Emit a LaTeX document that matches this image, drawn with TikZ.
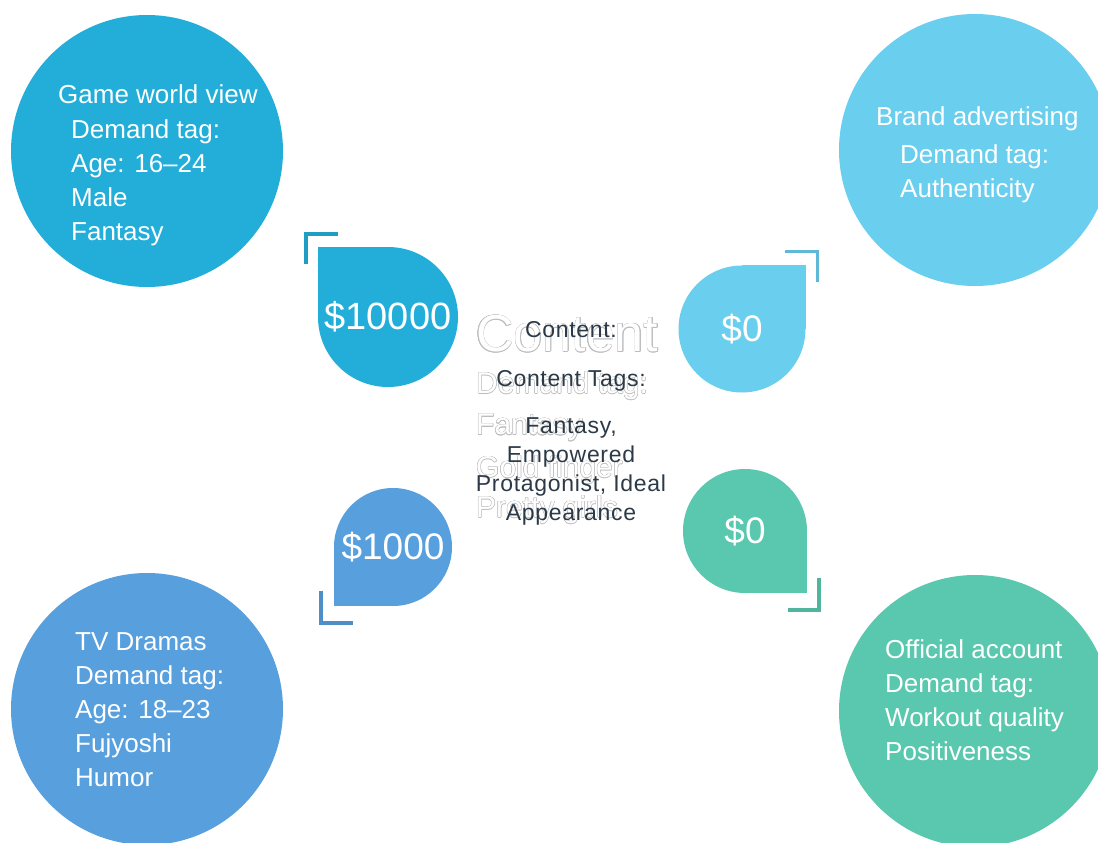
\documentclass[tikz,border=0pt]{standalone}
\usepackage{fontspec}
\setmainfont{Liberation Sans}
\newfontfamily\tagfont[LetterSpace=3]{Liberation Sans}
\usepackage[copies]{contour}
\contourlength{0.5pt}
\contournumber{12}
\usetikzlibrary{backgrounds,calc}

\definecolor{gameblue}{HTML}{22AED9}
\definecolor{brandblue}{HTML}{6ACEEE}
\definecolor{dramablue}{HTML}{589FDD}
\definecolor{officialgreen}{HTML}{5AC8AE}
\definecolor{ghostgray}{HTML}{BDBDBD}
\definecolor{inkgray}{HTML}{2C3A48}

\newcommand{\ghosttext}[1]{\contour{ghostgray}{\textcolor{white}{#1}}}

\begin{document}
\begin{tikzpicture}[x=1pt, y=-1pt,
  bubble/.style={circle, fill=#1, minimum size=272pt, inner sep=0pt},
  drop/.style={circle, fill=#1, text=white, inner sep=0pt},
  bracket/.style={draw=#1!90!black, line width=3.5pt},
  tagtext/.style={text=white, align=left, anchor=north west, inner sep=0pt, font=\fontsize{26}{34}\selectfont},
  ghost/.style={anchor=west, inner sep=0pt, font=\fontsize{30}{30}\selectfont},
  contenttext/.style={text=inkgray, align=center, inner sep=0pt, font=\tagfont\fontsize{23}{29}\selectfont}]

\useasboundingbox (0,0) rectangle (1098,843);

% demand circles
\node[bubble=gameblue] (game) at (147,151) {};
\node[bubble=brandblue] (brand) at (975,150) {};
\node[bubble=dramablue] (drama) at (147,709) {};
\node[bubble=officialgreen] (official) at (975,711) {};

\node[tagtext] (gametitle) at (58,84) {Game world view};
\node[tagtext] (gametags) at (71,119) {Demand tag:\\Age: 16–24\\Male\\Fantasy};
\node[tagtext] (brandtitle) at (876,106) {Brand advertising};
\node[tagtext] (brandtags) at (900,144) {Demand tag:\\Authenticity};
\node[tagtext] (dramatags) at (75,632) {TV Dramas\\Demand tag:\\Age: 18–23\\Fujyoshi\\Humor};
\node[tagtext] (officialtags) at (885,639) {Official account\\Demand tag:\\Workout quality\\Positiveness};

% price drops
\node[drop=gameblue, minimum size=140pt, font=\fontsize{38}{38}\selectfont] (d10000) at (388,317) {\$10000};
\node[drop=brandblue, minimum size=127pt, font=\fontsize{37}{37}\selectfont] (d0top) at (742,329) {\$0};
\node[drop=dramablue, minimum size=118pt, font=\fontsize{37}{37}\selectfont] (d1000) at (393,547) {\$1000};
\node[drop=officialgreen, minimum size=124pt, font=\fontsize{37}{37}\selectfont] (d0bot) at (745,531) {\$0};

\begin{scope}[on background layer]
\fill[gameblue] (d10000.center) rectangle (d10000.west |- d10000.north);
\fill[brandblue] (d0top.center) rectangle (d0top.east |- d0top.north);
\fill[dramablue] (d1000.center) rectangle (d1000.west |- d1000.south);
\fill[officialgreen] (d0bot.center) rectangle (d0bot.east |- d0bot.south);
\end{scope}

% corner brackets
\draw[bracket=gameblue] ($(d10000.west |- d10000.north)+(-12,17)$) -- ++(0,-30) -- ++(32,0);
\draw[bracket=brandblue] ($(d0top.east |- d0top.north)+(-21,-14)$) -- ++(33,0) -- ++(0,31);
\draw[bracket=dramablue] ($(d1000.west |- d1000.south)+(-13,-15)$) -- ++(0,32) -- ++(32,0);
\draw[bracket=officialgreen] ($(d0bot.east |- d0bot.south)+(-19,17)$) -- ++(31,0) -- ++(0,-32);

% content in the middle
\node[ghost, font=\fontsize{52}{52}\selectfont] (gcontent) at (476,334) {\ghosttext{Content}};
\node[ghost] (gdemand) at (476,386) {\ghosttext{Demand tag:}};
\node[ghost] (gfantasy) at (476,428) {\ghosttext{Fantasy}};
\node[ghost] (ggold) at (476,470) {\ghosttext{Gold finger}};
\node[ghost] (gpretty) at (476,510) {\ghosttext{Pretty girls}};

\node[contenttext] (ctitle) at (571,330) {Content:};
\node[contenttext] (ctags) at (571,381) {Content Tags:};
\node[contenttext, anchor=north] (clist) at (571,417) {Fantasy,\\Empowered\\Protagonist, Ideal\\Appearance};
\end{tikzpicture}
\end{document}
